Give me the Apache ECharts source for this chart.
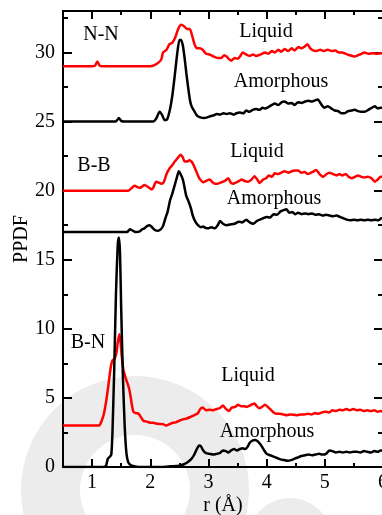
<!DOCTYPE html>
<html>
<head>
<meta charset="utf-8">
<script src="https://cdn.jsdelivr.net/npm/echarts@6/dist/echarts.min.js"></script>
<style>html,body{margin:0;padding:0;background:#fff;}#c{width:382px;height:515px;}</style>
</head>
<body>
<div id="c"></div>
<script>
// ---- data (r in Å, PPDF) ----
const xMajorTicks = [1, 2, 3, 4, 5, 6];
const xMinorTicks = [0.5, 1.5, 2.5, 3.5, 4.5, 5.5];
const yMajorTicks = [0, 5, 10, 15, 20, 25, 30];
const yMinorTicks = [2.5, 7.5, 12.5, 17.5, 22.5, 27.5, 32.5];

const nnLiquid = [[0.5,29],[1.0,29],[1.05,29.05],[1.09,29.35],[1.13,29.05],[1.18,29],[2.0,29],[2.08,29.1],[2.15,29.3],[2.19,29.5],[2.22,30.0],[2.28,30.2],[2.33,30.6],[2.38,30.7],[2.43,31.1],[2.48,31.7],[2.53,32.0],[2.58,31.9],[2.63,31.7],[2.68,31.7],[2.72,31.2],[2.76,30.6],[2.80,30.3],[2.85,30.3],[2.90,30.2],[2.96,29.9],[3.02,29.85],[3.09,29.7],[3.16,29.6],[3.22,29.6],[3.27,29.8],[3.31,29.7],[3.36,29.5],[3.39,29.4],[3.45,29.6],[3.50,29.55],[3.54,29.7],[3.59,30.0],[3.63,29.9],[3.67,29.8],[3.71,29.75],[3.77,29.85],[3.82,29.75],[3.86,29.8],[3.92,29.9],[3.97,30.0],[4.03,29.9],[4.09,30.1],[4.14,30.0],[4.20,30.2],[4.25,30.05],[4.31,30.25],[4.37,30.1],[4.43,30.3],[4.48,30.15],[4.55,30.4],[4.60,30.3],[4.66,30.45],[4.70,30.6],[4.75,30.3],[4.80,30.15],[4.85,30.1],[4.92,30.2],[4.98,30.1],[5.05,30.2],[5.12,30.1],[5.18,30.15],[5.24,30.0],[5.30,30.0],[5.36,29.9],[5.43,29.8],[5.51,29.7],[5.57,29.8],[5.63,29.9],[5.68,30.0],[5.75,29.9],[5.82,29.95],[5.90,29.9],[5.96,29.95],[6.0,29.9]];

const nnAmorphous = [[0.5,25],[1.4,25],[1.43,25.1],[1.46,25.25],[1.5,25.05],[1.55,25],[2.05,25],[2.10,25.2],[2.16,25.7],[2.20,25.5],[2.25,25.1],[2.29,25.15],[2.34,25.9],[2.38,26.9],[2.42,28.3],[2.46,29.8],[2.50,30.9],[2.53,30.9],[2.56,30.5],[2.59,29.6],[2.62,28.5],[2.65,27.5],[2.68,26.6],[2.71,26.1],[2.75,25.8],[2.80,25.45],[2.86,25.3],[2.92,25.25],[2.98,25.3],[3.04,25.4],[3.09,25.45],[3.14,25.55],[3.20,25.5],[3.26,25.6],[3.31,25.55],[3.37,25.6],[3.43,25.5],[3.48,25.6],[3.54,25.65],[3.60,25.6],[3.65,25.8],[3.70,25.7],[3.76,25.85],[3.82,25.9],[3.88,25.85],[3.93,26.0],[3.97,25.95],[4.03,26.05],[4.09,26.2],[4.14,26.3],[4.20,26.2],[4.26,26.4],[4.31,26.45],[4.37,26.3],[4.43,26.35],[4.48,26.2],[4.54,26.4],[4.60,26.35],[4.66,26.45],[4.72,26.5],[4.78,26.45],[4.84,26.55],[4.88,26.6],[4.93,26.3],[4.99,26.0],[5.05,26.1],[5.11,25.95],[5.17,25.8],[5.23,25.75],[5.28,25.6],[5.34,25.6],[5.40,25.75],[5.46,25.8],[5.51,25.85],[5.57,25.75],[5.62,25.7],[5.68,25.7],[5.73,25.8],[5.79,25.95],[5.86,26.1],[5.91,25.95],[5.97,26.0],[6.0,26.0]];

const bbLiquid = [[0.5,20],[1.62,20],[1.67,20.15],[1.73,20.35],[1.78,20.25],[1.82,20.2],[1.86,20.3],[1.90,20.4],[1.95,20.3],[2.0,20.15],[2.03,20.1],[2.07,20.4],[2.10,20.65],[2.14,20.6],[2.19,20.5],[2.23,20.6],[2.28,21.2],[2.33,21.6],[2.38,21.85],[2.42,22.1],[2.47,22.35],[2.52,22.6],[2.56,22.4],[2.59,22.1],[2.63,22.1],[2.67,22.2],[2.71,22.1],[2.75,21.8],[2.79,21.4],[2.83,21.0],[2.87,20.75],[2.91,20.6],[2.96,20.7],[3.02,20.8],[3.07,20.6],[3.11,20.5],[3.16,20.5],[3.22,20.6],[3.28,20.7],[3.34,20.9],[3.38,20.6],[3.42,20.5],[3.48,20.6],[3.53,20.7],[3.57,20.8],[3.62,20.7],[3.68,20.65],[3.74,20.8],[3.79,21.05],[3.84,20.8],[3.88,20.55],[3.94,20.8],[3.99,20.9],[4.04,21.1],[4.09,21.0],[4.14,21.25],[4.20,21.2],[4.25,21.3],[4.31,21.4],[4.37,21.3],[4.43,21.4],[4.48,21.45],[4.54,21.45],[4.60,21.3],[4.65,21.35],[4.71,21.2],[4.76,21.3],[4.81,21.4],[4.85,21.5],[4.91,21.2],[4.97,21.0],[5.03,21.2],[5.08,21.3],[5.14,21.2],[5.20,21.1],[5.25,21.2],[5.30,21.1],[5.36,21.2],[5.41,21.0],[5.46,20.9],[5.52,21.0],[5.57,21.1],[5.63,21.0],[5.68,20.95],[5.74,21.0],[5.80,20.9],[5.86,20.65],[5.91,20.8],[5.96,21.0],[6.0,21.0]];

const bbAmorphous = [[0.5,17],[1.6,17],[1.65,17.2],[1.70,17.1],[1.76,17.0],[1.82,17.05],[1.86,17.2],[1.90,17.27],[1.95,17.45],[1.99,17.5],[2.03,17.35],[2.08,17.15],[2.13,17.1],[2.18,17.2],[2.22,17.45],[2.26,18.0],[2.30,18.5],[2.34,19.3],[2.38,19.8],[2.42,20.4],[2.46,21.0],[2.49,21.4],[2.52,21.2],[2.56,20.8],[2.59,20.2],[2.62,19.6],[2.66,19.2],[2.70,18.7],[2.73,18.2],[2.77,17.8],[2.82,17.5],[2.87,17.35],[2.91,17.4],[2.95,17.3],[2.99,17.27],[3.05,17.35],[3.11,17.27],[3.16,17.5],[3.20,17.8],[3.25,17.6],[3.31,17.5],[3.37,17.55],[3.45,17.6],[3.52,17.75],[3.58,17.7],[3.65,17.9],[3.71,17.7],[3.77,17.6],[3.83,17.8],[3.88,17.9],[3.94,18.0],[4.0,18.1],[4.06,18.05],[4.12,18.3],[4.18,18.25],[4.24,18.5],[4.30,18.6],[4.34,18.65],[4.39,18.4],[4.44,18.45],[4.49,18.3],[4.54,18.4],[4.60,18.3],[4.66,18.35],[4.72,18.3],[4.78,18.35],[4.84,18.25],[4.90,18.3],[4.96,18.2],[5.02,18.25],[5.08,18.2],[5.14,18.15],[5.20,18.2],[5.26,18.1],[5.32,18.0],[5.38,17.9],[5.44,17.85],[5.50,17.9],[5.56,17.85],[5.62,17.9],[5.68,17.85],[5.74,17.9],[5.80,17.85],[5.86,17.9],[5.92,17.85],[5.97,18.0],[6.0,18.0]];

const bnLiquid = [[0.5,3],[1.12,3],[1.16,3.3],[1.20,3.8],[1.24,4.7],[1.28,5.9],[1.32,7.2],[1.35,7.7],[1.39,7.85],[1.42,8.3],[1.44,9.0],[1.47,9.6],[1.49,9.0],[1.51,8.0],[1.54,7.0],[1.58,6.4],[1.62,5.9],[1.65,5.4],[1.68,4.6],[1.71,4.0],[1.75,3.9],[1.80,3.85],[1.84,3.6],[1.88,3.35],[1.92,3.3],[1.96,3.26],[2.0,3.2],[2.05,3.2],[2.10,3.15],[2.16,3.12],[2.22,3.1],[2.27,3.0],[2.33,3.1],[2.39,3.2],[2.45,3.25],[2.50,3.35],[2.56,3.45],[2.62,3.5],[2.68,3.6],[2.73,3.7],[2.78,3.8],[2.82,3.9],[2.86,4.2],[2.90,4.3],[2.96,4.1],[3.02,4.15],[3.08,4.1],[3.14,4.2],[3.19,4.25],[3.25,4.45],[3.30,4.2],[3.35,4.05],[3.40,4.3],[3.46,4.35],[3.51,4.5],[3.56,4.4],[3.61,4.4],[3.66,4.35],[3.71,4.45],[3.76,4.55],[3.79,4.6],[3.83,4.4],[3.87,4.25],[3.92,4.35],[3.97,4.5],[4.02,4.35],[4.07,4.15],[4.12,3.95],[4.17,3.86],[4.23,3.85],[4.29,3.8],[4.35,3.75],[4.41,3.8],[4.47,3.78],[4.53,3.75],[4.59,3.8],[4.65,3.8],[4.71,3.85],[4.77,3.8],[4.83,3.9],[4.89,3.85],[4.95,3.95],[5.01,4.0],[5.07,3.95],[5.13,4.1],[5.19,4.05],[5.25,4.15],[5.31,4.1],[5.37,4.2],[5.43,4.1],[5.49,4.2],[5.55,4.1],[5.61,4.15],[5.67,4.05],[5.73,4.1],[5.79,4.05],[5.85,4.1],[5.91,4.0],[5.96,4.05],[6.0,4.0]];

const bnAmorphous = [[0.5,0],[1.20,0],[1.24,0.1],[1.27,0.6],[1.30,0.72],[1.33,0.9],[1.35,2.5],[1.38,7.0],[1.41,12.5],[1.44,16.0],[1.46,16.6],[1.48,15.5],[1.50,11.5],[1.53,6.5],[1.56,3.0],[1.59,1.0],[1.62,0.35],[1.66,0.15],[1.72,0.05],[1.80,0],[2.20,0],[2.35,0.05],[2.50,0.1],[2.58,0.2],[2.64,0.35],[2.70,0.55],[2.75,0.85],[2.80,1.3],[2.84,1.55],[2.87,1.5],[2.91,1.2],[2.96,1.0],[3.02,0.95],[3.08,0.9],[3.14,0.95],[3.19,1.0],[3.25,1.2],[3.30,1.15],[3.34,1.05],[3.39,1.2],[3.44,1.3],[3.49,1.2],[3.54,1.3],[3.59,1.35],[3.63,1.3],[3.67,1.45],[3.71,1.75],[3.75,1.9],[3.80,1.95],[3.85,1.85],[3.90,1.6],[3.95,1.25],[4.0,0.95],[4.06,0.85],[4.12,0.75],[4.18,0.65],[4.24,0.55],[4.30,0.5],[4.36,0.45],[4.42,0.5],[4.48,0.6],[4.54,0.7],[4.60,0.8],[4.66,0.85],[4.72,0.9],[4.78,0.85],[4.84,0.9],[4.90,0.95],[4.96,0.9],[5.02,0.95],[5.08,1.2],[5.13,1.15],[5.19,1.05],[5.25,1.1],[5.31,1.05],[5.37,1.1],[5.43,1.05],[5.49,1.1],[5.55,1.1],[5.61,1.05],[5.67,1.15],[5.73,1.1],[5.79,1.05],[5.85,1.15],[5.91,1.1],[5.96,1.2],[6.0,1.2]];

const annotations = [
  {text: 'N-N', x: 101, y: 35},
  {text: 'Liquid', x: 266, y: 32},
  {text: 'Amorphous', x: 281, y: 82},
  {text: 'B-B', x: 94, y: 166},
  {text: 'Liquid', x: 257, y: 152},
  {text: 'Amorphous', x: 274, y: 199},
  {text: 'B-N', x: 88, y: 343},
  {text: 'Liquid', x: 248, y: 376},
  {text: 'Amorphous', x: 267, y: 432}
];

// ---- chart ----
const FONT = '"Liberation Serif", "Times New Roman", serif';
const X_MIN = 0.5, X_MAX = 6, Y_MIN = 0, Y_MAX = 33;

function xAx(pos, ticks, len, withLabels, showLine) {
  return {
    type: 'value', position: pos, min: X_MIN, max: X_MAX,
    axisLine: {show: showLine, onZero: false, lineStyle: {color: '#000', width: 2}},
    axisTick: {show: true, inside: true, length: len, customValues: ticks, lineStyle: {color: '#000', width: 2}},
    axisLabel: withLabels ? {show: true, customValues: ticks, color: '#000', fontFamily: FONT, fontSize: 20, margin: 6} : {show: false},
    splitLine: {show: false},
    name: withLabels ? 'r (Å)' : '', nameLocation: 'middle', nameGap: 29, nameMoveOverlap: false,
    nameTextStyle: {color: '#000', fontFamily: FONT, fontSize: 20}
  };
}
function yAx(pos, ticks, len, withLabels, showLine) {
  return {
    type: 'value', position: pos, min: Y_MIN, max: Y_MAX,
    axisLine: {show: showLine, onZero: false, lineStyle: {color: '#000', width: 2}},
    axisTick: {show: true, inside: true, length: len, customValues: ticks, lineStyle: {color: '#000', width: 2}},
    axisLabel: withLabels ? {show: true, customValues: ticks, color: '#000', fontFamily: FONT, fontSize: 20, margin: 8} : {show: false},
    splitLine: {show: false},
    name: withLabels ? 'PPDF' : '', nameLocation: 'middle', nameGap: 31, nameMoveOverlap: false,
    nameTextStyle: {color: '#000', fontFamily: FONT, fontSize: 20}
  };
}

const chart = echarts.init(document.getElementById('c'), null, {renderer: 'canvas'});

function line(data, color) {
  return {
    type: 'line', data: data, xAxisIndex: 0, yAxisIndex: 0,
    showSymbol: false, symbol: 'none', smooth: 0.2, clip: true,
    lineStyle: {color: color, width: 2.5}, z: 3, animation: false
  };
}

chart.setOption({
  animation: false,
  backgroundColor: '#fff',
  grid: {left: 63, right: -1, top: 11, bottom: 48, containLabel: false, outerBoundsMode: 'none'},
  xAxis: [
    xAx('bottom', xMajorTicks, 8, true, true),
    xAx('bottom', xMinorTicks, 4, false, false),
    xAx('top', xMajorTicks, 8, false, true),
    xAx('top', xMinorTicks, 4, false, false)
  ],
  yAxis: [
    yAx('left', yMajorTicks, 9, true, true),
    yAx('left', yMinorTicks, 5, false, false),
    yAx('right', yMajorTicks, 9, false, true),
    yAx('right', yMinorTicks, 5, false, false)
  ],
  graphic: [
    {type: 'sector', z: -10, silent: true,
     shape: {cx: 135, cy: 490, r0: 55, r: 114, startAngle: 0, endAngle: Math.PI * 2},
     style: {fill: '#ececec'}},
    {type: 'circle', z: -10, silent: true,
     shape: {cx: 290, cy: 540, r: 42},
     style: {fill: '#ececec'}}
  ].concat(annotations.map(a => ({
    type: 'text', x: a.x, y: a.y, z: 10, silent: true,
    style: {text: a.text, fill: '#000', font: '20px ' + FONT, textAlign: 'center', textVerticalAlign: 'middle'}
  }))),
  series: [
    line(nnLiquid, '#ff0000'),
    line(nnAmorphous, '#000000'),
    line(bbLiquid, '#ff0000'),
    line(bbAmorphous, '#000000'),
    line(bnLiquid, '#ff0000'),
    line(bnAmorphous, '#000000')
  ]
});
</script>
</body>
</html>
